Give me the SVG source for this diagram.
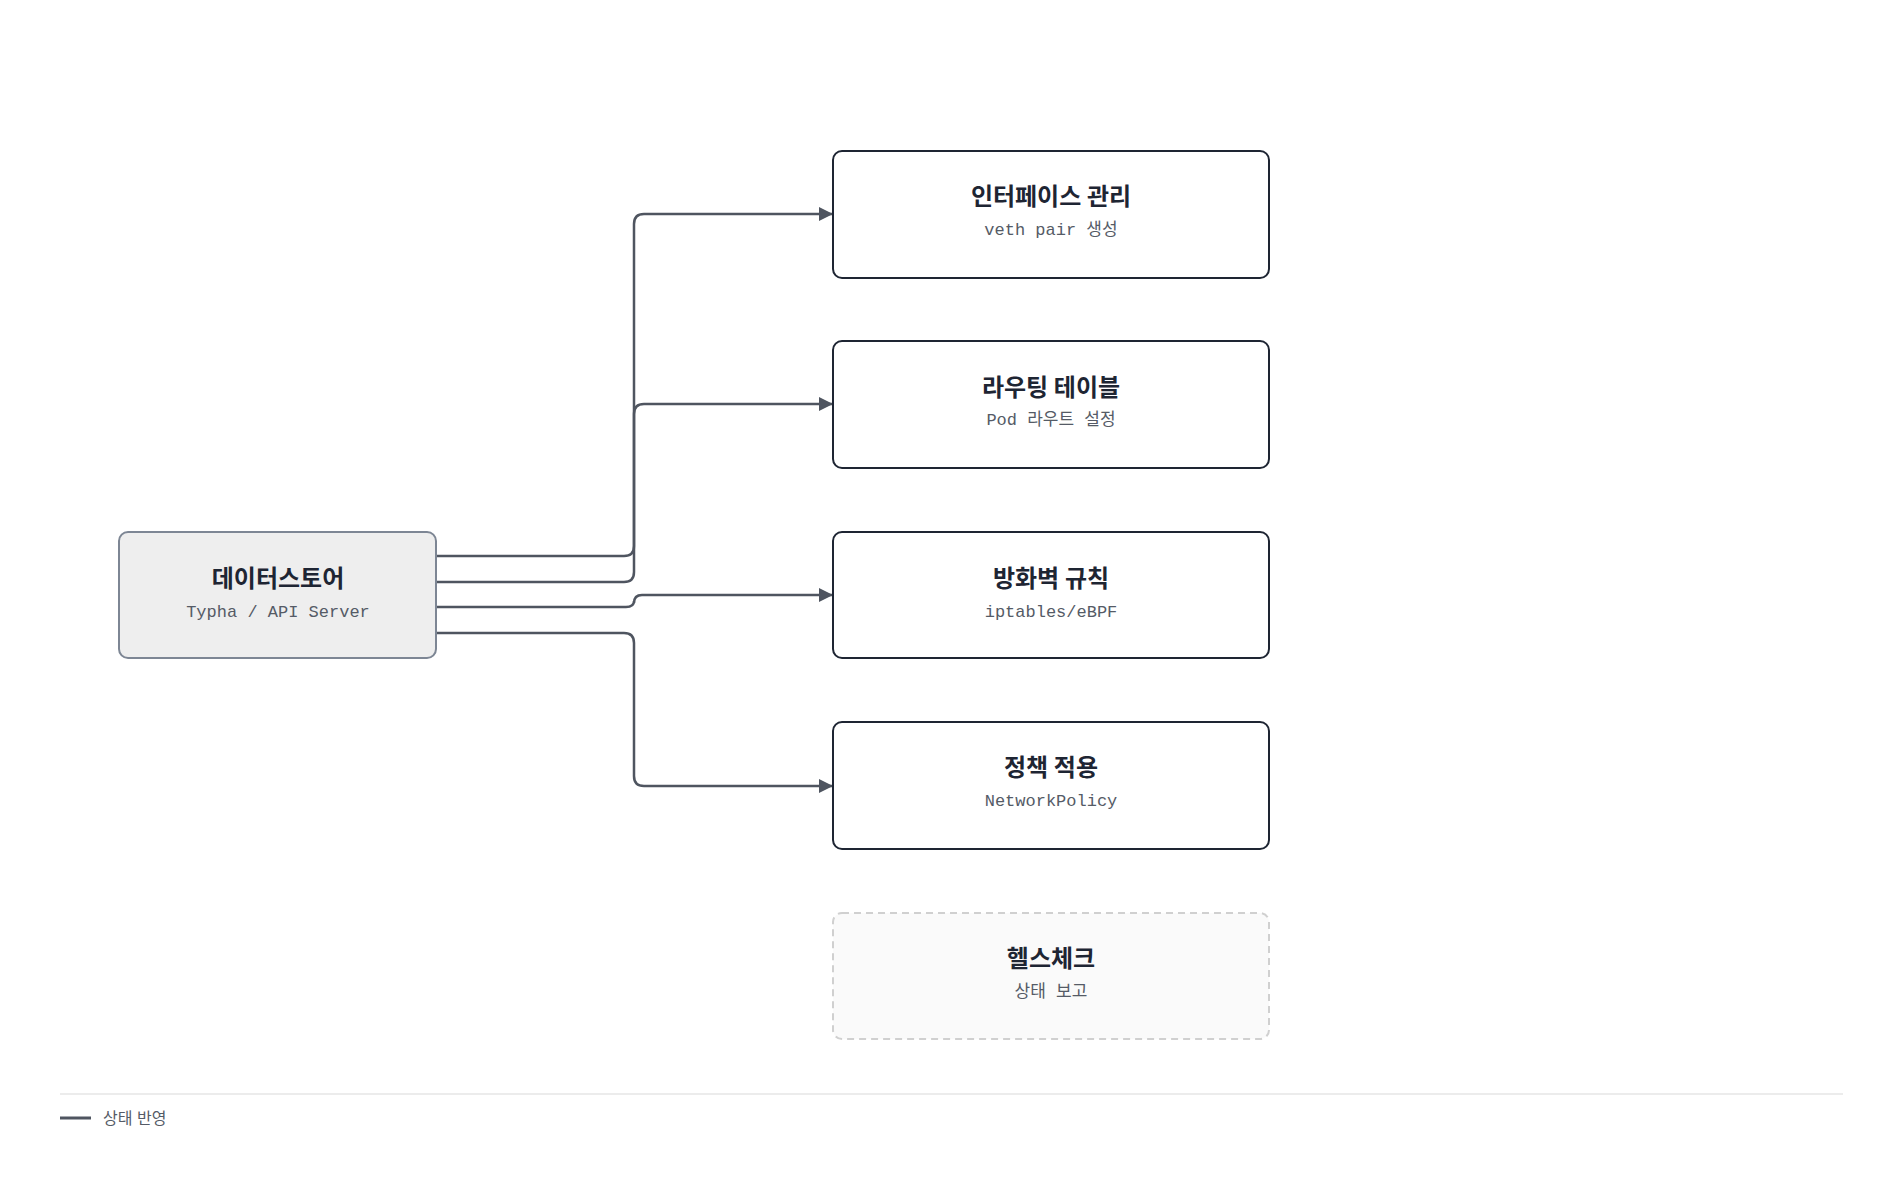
<svg xmlns="http://www.w3.org/2000/svg" width="1904" height="1190" viewBox="0 0 1904 1190">
<style>
.box{fill:#fff;stroke:#1e2533;stroke-width:2}
.t{font-family:"Inter","Noto Sans CJK KR",sans-serif;font-weight:700;font-size:24px;fill:#1e2533;text-anchor:middle}
.s{font-family:"Liberation Mono","Noto Sans CJK KR",monospace;font-size:17px;fill:#555b66;text-anchor:middle}
.c{fill:none;stroke:#4f5560;stroke-width:2.5}
</style>
<defs><marker id="a" viewBox="0 0 10 10" refX="10" refY="5" markerWidth="7" markerHeight="7" markerUnits="userSpaceOnUse" orient="auto"><path d="M0,0L10,5L0,10z" fill="#4f5560"/></marker>
<marker id="ah" viewBox="0 0 10 10" refX="10" refY="5" markerWidth="16" markerHeight="14" markerUnits="userSpaceOnUse" orient="auto"><path d="M0,0L10,5L0,10z" fill="#4f5560"/></marker></defs>
<rect width="1904" height="1190" fill="#fff"/>
<g id="connectors">
<path class="c" marker-end="url(#ah)" d="M436,556H624Q634,556 634,546V224Q634,214 644,214H833"/>
<path class="c" marker-end="url(#ah)" d="M436,582H624Q634,582 634,572V414Q634,404 644,404H833"/>
<path class="c" marker-end="url(#ah)" d="M436,607H626Q634,607 634,601V603Q634,595 642,595H833"/>
<path class="c" marker-end="url(#ah)" d="M436,633H624Q634,633 634,643V776Q634,786 644,786H833"/>
</g>
<g id="datastore"><rect x="119" y="532" width="317" height="126" rx="9" fill="#eeeeee" stroke="#7d8694" stroke-width="2"/><text class="t" x="278" y="587">데이터스토어</text><text class="s" x="278" y="617">Typha / API Server</text></g>
<g id="iface"><rect class="box" x="833" y="151" width="436" height="127" rx="9"/><text class="t" x="1051" y="205">인터페이스 관리</text><text class="s" x="1051" y="235">veth pair 생성</text></g>
<g id="route"><rect class="box" x="833" y="341" width="436" height="127" rx="9"/><text class="t" x="1051" y="396">라우팅 테이블</text><text class="s" x="1051" y="425">Pod 라우트 설정</text></g>
<g id="fw"><rect class="box" x="833" y="532" width="436" height="126" rx="9"/><text class="t" x="1051" y="587">방화벽 규칙</text><text class="s" x="1051" y="617">iptables/eBPF</text></g>
<g id="policy"><rect class="box" x="833" y="722" width="436" height="127" rx="9"/><text class="t" x="1051" y="776">정책 적용</text><text class="s" x="1051" y="806">NetworkPolicy</text></g>
<g id="health"><rect x="833" y="913" width="436" height="126" rx="9" fill="#fafafa" stroke="#d0d0d0" stroke-width="2" stroke-dasharray="7 5"/><text class="t" x="1051" y="967">헬스체크</text><text class="s" x="1051" y="997">상태 보고</text></g>
<g id="legend"><line x1="60" y1="1094" x2="1843" y2="1094" stroke="#e6e6e6" stroke-width="1.5"/><line x1="60" y1="1118" x2="91" y2="1118" stroke="#4f5560" stroke-width="3"/><text x="103" y="1124" font-family="Inter,'Noto Sans CJK KR',sans-serif" font-size="16" fill="#555b66">상태 반영</text></g>
</svg>
